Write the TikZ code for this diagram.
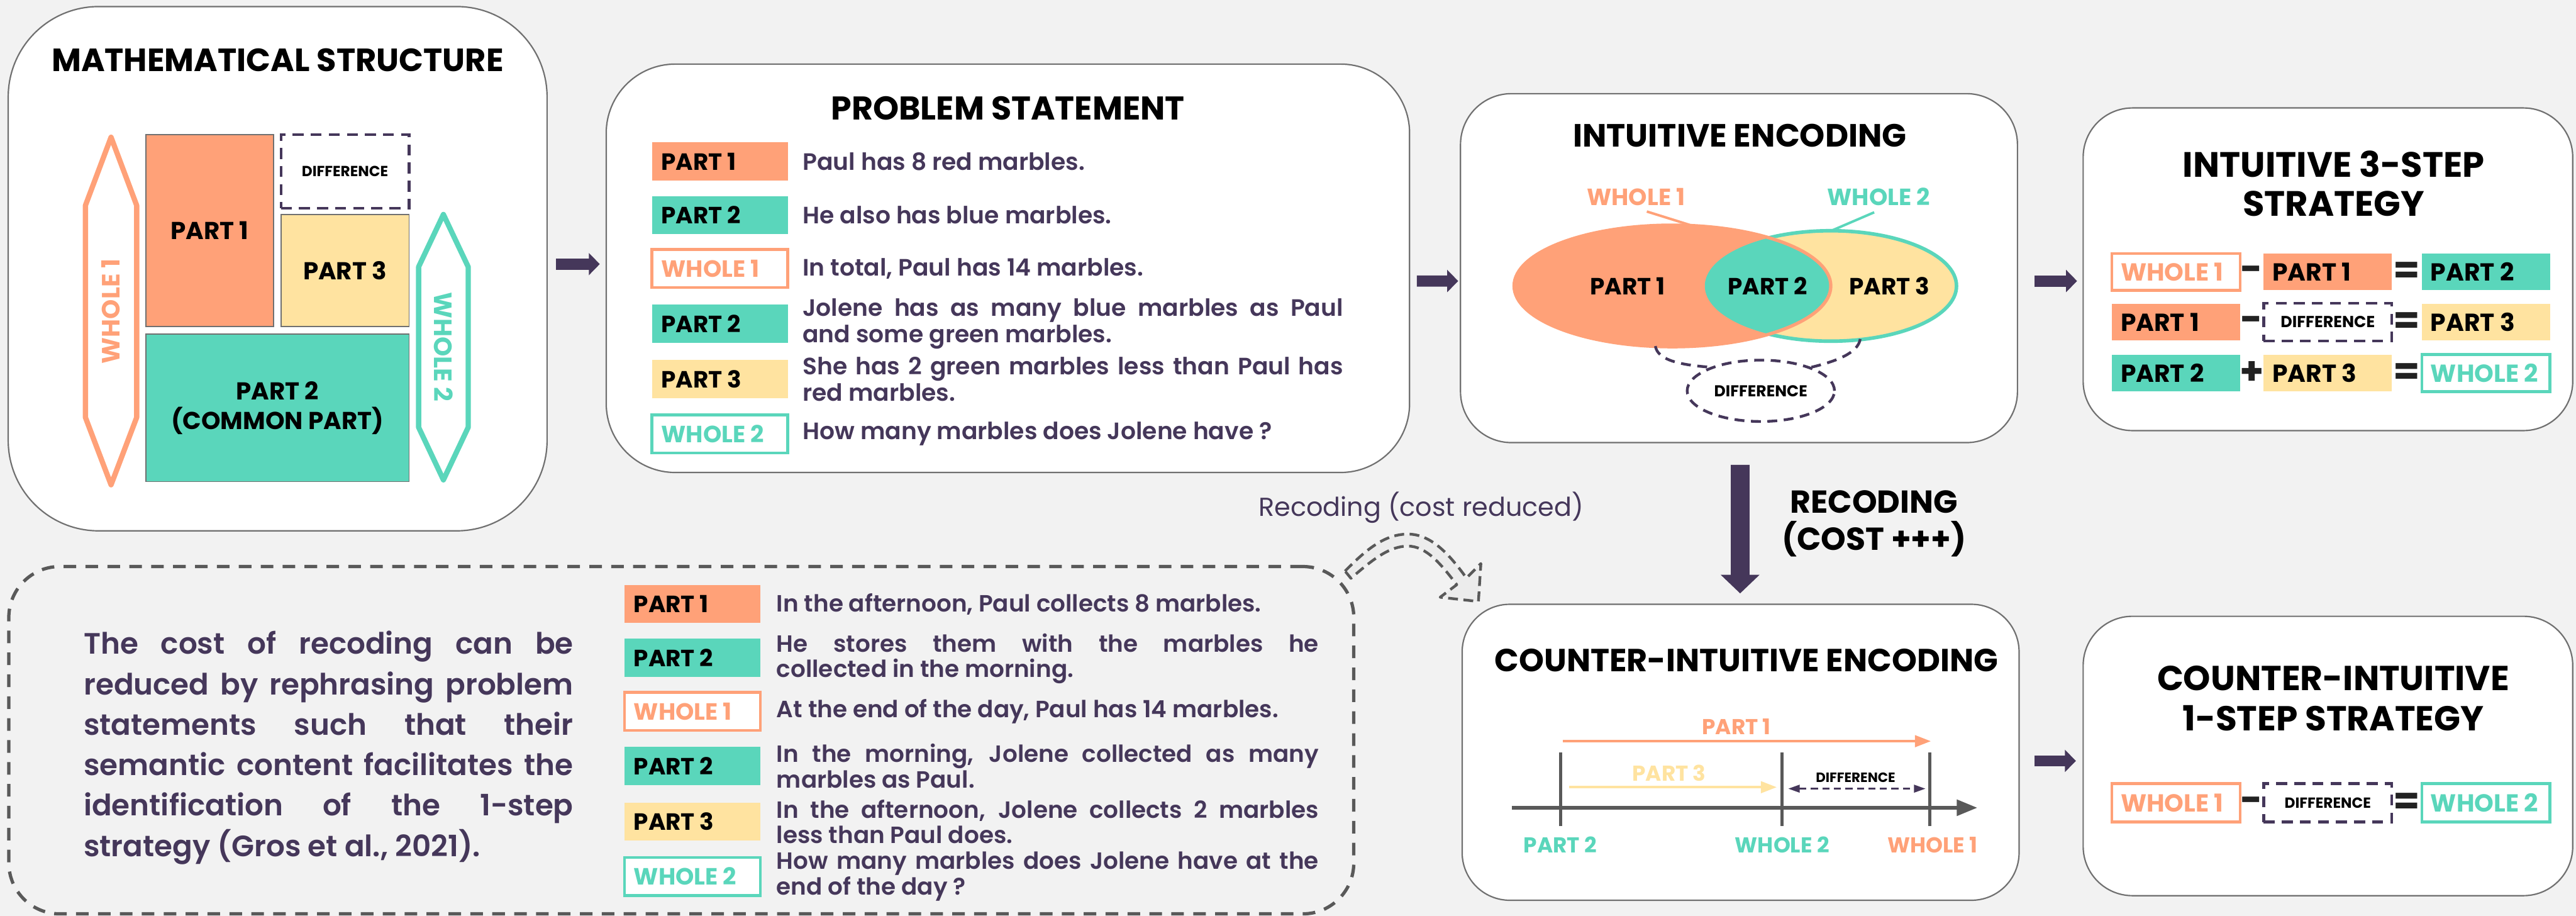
\documentclass[tikz,border=0pt]{standalone}
\usepackage{fontspec}
\setmainfont{Poppins}
\newfontfamily\pSemi{Poppins SemiBold}
\usetikzlibrary{arrows.meta,shapes.geometric,calc}
\definecolor{cOr}{HTML}{FFA178}
\definecolor{cTe}{HTML}{5AD6BB}
\definecolor{cYe}{HTML}{FFE3A0}
\definecolor{cPu}{HTML}{45375A}
\definecolor{cGr}{HTML}{595959}
\definecolor{cBg}{HTML}{F2F2F2}
\definecolor{cBd}{HTML}{707070}
\definecolor{cFa}{HTML}{ECECEC}
\definecolor{cOp}{HTML}{222222}
\newcommand\fs[2]{\fontsize{#1}{#2}\selectfont}
\newcommand\lbA[1]{\makebox[24.8mm][l]{\hspace{1.7mm}#1}}
\newcommand\lbB[1]{\makebox[23.4mm][l]{\hspace{1.6mm}#1}}
\newcommand\jl[2]{\makebox[#1][s]{#2}}
\begin{document}
\begin{tikzpicture}[x=0.3mm,y=-0.3mm,
 panel/.style={draw=cBd, line width=0.25mm, fill=white, inner sep=0},
 ttl/.style={align=center, inner sep=0, font=\bfseries\fs{16.7pt}{19pt}},
 lab/.style={minimum height=6.96mm, inner sep=0, font=\bfseries\fs{12.2pt}{14pt}},
 labB/.style={minimum height=6.72mm, inner sep=0, font=\bfseries\fs{12.8pt}{14pt}},
 sPa1/.style={fill=cOr},
 sPa2/.style={fill=cTe},
 sPa3/.style={fill=cYe},
 sWh1/.style={draw=cOr, line width=0.53mm, fill=white, text=cOr},
 sWh2/.style={draw=cTe, line width=0.53mm, fill=white, text=cTe},
 dbx/.style={draw=cPu, line width=0.5mm, dash pattern=on 2mm off 1.3mm, fill=white, minimum width=23.4mm, minimum height=6.9mm, inner sep=0, align=center, font=\bfseries\fs{8.3pt}{9pt}},
 body/.style={anchor=west, inner sep=0, text=cPu, font=\pSemi\fs{12.3pt}{11.8pt}},
 bodyB/.style={anchor=west, inner sep=0, text=cPu, font=\pSemi\fs{12.2pt}{11.3pt}},
 opr/.style={anchor=base, inner sep=0, text=cOp, font=\bfseries\fs{20pt}{20pt}},
 mrect/.style={draw=cBd, line width=0.2mm, inner sep=0, align=center, font=\bfseries\fs{12.7pt}{15.4pt}},
 harr/.style={cPu, line width=2.04mm, -{Triangle[length=2mm,width=3.96mm]}},
 varr/.style={cPu, line width=3.42mm, -{Triangle[length=3.4mm,width=6.9mm]}},
 cilab/.style={inner sep=0, font=\bfseries\fs{11.2pt}{12pt}},
 vlab/.style={inner sep=0, font=\bfseries\fs{12.2pt}{13pt}},
 ]
\useasboundingbox (0,0) rectangle (1568,557.3);
\fill[cBg] (0,0) rectangle (1568,557.3);

% ---------- panels
\node[panel, rounded corners=16.5mm, minimum width=98.4mm, minimum height=95.7mm] (P1) at (169,163.5) {};
\node[panel, rounded corners=12.6mm, minimum width=146.7mm, minimum height=74.55mm] (P2) at (613.5,163.25) {};
\node[panel, rounded corners=9.3mm, minimum width=101.7mm, minimum height=63.7mm] (P3) at (1058.5,163.15) {};
\node[panel, rounded corners=9mm, minimum width=89.4mm, minimum height=58.9mm] (P4) at (1417,163.85) {};
\node[panel, rounded corners=8.7mm, minimum width=101.7mm, minimum height=54.03mm] (P5) at (1059.5,457.75) {};
\node[panel, rounded corners=9mm, minimum width=89.4mm, minimum height=51mm] (P6) at (1417,460) {};
\node[draw=cGr, line width=0.6mm, dash pattern=on 2.3mm off 1.7mm, rounded corners=9.3mm, minimum width=245.6mm, minimum height=63.4mm, inner sep=0] (DB) at (414.7,450.4) {};

% ---------- titles
\node[ttl] (T1) at (169,36.5) {MATHEMATICAL STRUCTURE};
\node[ttl, font=\bfseries\fs{17.1pt}{18pt}] (T2) at (613.5,65.8) {PROBLEM STATEMENT};
\node[ttl] (T3) at (1059,82.5) {INTUITIVE ENCODING};
\node[ttl, font=\bfseries\fs{18.3pt}{20.3pt}] (T4) at (1420.5,111.6) {INTUITIVE 3-STEP\\STRATEGY};
\node[ttl, font=\bfseries\fs{16.6pt}{19pt}] (T5) at (1063,401.7) {COUNTER-INTUITIVE ENCODING};
\node[ttl, font=\bfseries\fs{18pt}{20.9pt}] (T6) at (1420.2,425) {COUNTER-INTUITIVE\\1-STEP STRATEGY};

% ---------- mathematical structure
\draw[cOr, line width=0.96mm, line join=round] (67.6,83.5) -- (83.2,125) -- (83.2,254) -- (67.6,295) -- (52,254) -- (52,125) -- cycle;
\node[rotate=90, text=cOr, inner sep=0, font=\bfseries\fs{13pt}{13pt}] (MW1) at (67.6,189.5) {WHOLE 1};
\draw[cTe, line width=0.96mm, line join=round] (269.9,130.5) -- (285,162.4) -- (285,260) -- (269.9,292) -- (254.8,260) -- (254.8,162.4) -- cycle;
\node[rotate=-90, text=cTe, inner sep=0, font=\bfseries\fs{13pt}{13pt}] (MW2) at (269.9,211) {WHOLE 2};
\node[mrect, fill=cOr, minimum width=23.31mm, minimum height=35.1mm] (MP1) at (127.55,140.3) {PART 1};
\node[mrect, fill=cYe, minimum width=23.4mm, minimum height=20.49mm] (MP3) at (210,164.65) {PART 3};
\node[mrect, fill=cTe, minimum width=48.09mm, minimum height=26.88mm] (MP2) at (168.85,248.2) {PART 2\\(COMMON PART)};
\node[dbx, minimum width=23.4mm, minimum height=13.44mm, font=\bfseries\fs{7.6pt}{8pt}] (MDF) at (210,104.2) {DIFFERENCE};

% ---------- problem statement
\node[lab, sPa1] (L1) at (438.2,98.2) {\lbA{PART 1}};
\node[body] (S1) at (488.4,98.2) {Paul has 8 red marbles.};
\node[lab, sPa2] (L2) at (438.2,130.9) {\lbA{PART 2}};
\node[body] (S2) at (488.4,130.9) {He also has blue marbles.};
\node[lab, sWh1] (L3) at (438.2,163.4) {\lbA{WHOLE 1}};
\node[body] (S3) at (488.4,163.4) {In total, Paul has 14 marbles.};
\node[lab, sPa2] (L4) at (438.2,196.9) {\lbA{PART 2}};
\node[body, align=left, font=\pSemi\fs{12.3pt}{13.8pt}] (S4) at (488.4,196.9) {\jl{98.7mm}{Jolene has as many blue marbles as Paul}\\and some green marbles.};
\node[lab, sPa3] (L5) at (438.2,230.7) {\lbA{PART 3}};
\node[body, align=left, font=\pSemi\fs{12.3pt}{13.8pt}] (S5) at (488.4,230.7) {\jl{98.7mm}{She has 2 green marbles less than Paul has}\\red marbles.};
\node[lab, sWh2] (L6) at (438.2,264) {\lbA{WHOLE 2}};
\node[body] (S6) at (488.4,264) {How many marbles does Jolene have ?};

% ---------- intuitive encoding (Venn)
\draw[cTe, line width=0.65mm, fill=cYe] (1114.3,174) ellipse [x radius=76.6, y radius=33.6];
\fill[cOr] (1018,174) ellipse [x radius=96.4, y radius=37];
\begin{scope}
\clip (1018,174) ellipse [x radius=96.4, y radius=37];
\fill[cTe] (1114.3,174) ellipse [x radius=76.6, y radius=33.6];
\end{scope}
\draw[cOr, line width=0.6mm] (1018,174) ellipse [x radius=96.4, y radius=37];
\node[vlab] (VP1) at (990.8,174) {PART 1};
\node[vlab] (VP2) at (1076,174) {PART 2};
\node[vlab] (VP3) at (1150,174) {PART 3};
\node[vlab, text=cOr] (VW1) at (995.8,119.7) {WHOLE 1};
\node[vlab, text=cTe] (VW2) at (1143.5,119.7) {WHOLE 2};
\draw[cOr, line width=0.45mm] (1002.4,128.7) -- (1030.9,137.6);
\draw[cTe, line width=0.45mm] (1140.8,129.2) -- (1114.5,140.5);
\node[ellipse, draw=cPu, line width=0.5mm, dash pattern=on 1.8mm off 1.2mm, minimum width=26.9mm, minimum height=11.2mm, inner sep=0, font=\bfseries\fs{8.2pt}{9pt}] (VD) at (1071.8,237.8) {DIFFERENCE};
\coordinate (VC1) at (1007.6,210.6);
\coordinate (VC2) at (1132.3,206.3);
\draw[cPu, line width=0.5mm, dash pattern=on 1.8mm off 1.2mm] (VC1) .. controls (1009,219) and (1022,222) .. (VD.155);
\draw[cPu, line width=0.5mm, dash pattern=on 1.8mm off 1.2mm] (VC2) .. controls (1131,215) and (1117,220) .. (VD.25);

% ---------- intuitive 3-step strategy
\node[labB, sWh1] (E11) at (1324.5,165.4) {\lbB{WHOLE 1}};
\node[opr] (O11) at (1370.7,171.6) {-};
\node[labB, sPa1] (E12) at (1416.9,165.4) {\lbB{PART 1}};
\node[opr] (O12) at (1465,172.4) {=};
\node[labB, sPa2] (E13) at (1513.2,165.4) {\lbB{PART 2}};
\node[labB, sPa1] (E21) at (1324.5,196) {\lbB{PART 1}};
\node[opr] (O21) at (1370.7,202.2) {-};
\node[dbx] (E22) at (1416.9,196) {DIFFERENCE};
\node[opr] (O22) at (1465,203) {=};
\node[labB, sPa3] (E23) at (1513.2,196) {\lbB{PART 3}};
\node[labB, sPa2] (E31) at (1324.5,227) {\lbB{PART 2}};
\node[opr] (O31) at (1370.7,234) {+};
\node[labB, sPa3] (E32) at (1416.9,227) {\lbB{PART 3}};
\node[opr] (O32) at (1465,234) {=};
\node[labB, sWh2] (E33) at (1513.2,227) {\lbB{WHOLE 2}};

% ---------- counter-intuitive encoding
\draw[cGr, line width=0.66mm, -{Triangle[length=3.75mm,width=2.85mm]}] (920.2,491.5) -- (1203.6,491.5);
\draw[cGr, line width=0.6mm] (950,458) -- (950,502.5);
\draw[cGr, line width=0.6mm] (1084.8,458) -- (1084.8,502.5);
\draw[cGr, line width=0.6mm] (1174.6,458) -- (1174.6,502.5);
\draw[cOr, line width=0.45mm, -{Triangle[length=2.9mm,width=2.1mm]}] (951.2,451) -- (1175.3,451);
\draw[cYe, line width=0.45mm, -{Triangle[length=2.9mm,width=2.1mm]}] (955,479) -- (1081.5,479);
\draw[cPu, line width=0.3mm, dash pattern=on 1.3mm off 0.8mm, {Triangle[length=2.1mm,width=1.4mm]}-{Triangle[length=2.1mm,width=1.4mm]}] (1088.5,479.9) -- (1172,479.9);
\node[cilab, text=cOr] (CP1) at (1057,442.3) {PART 1};
\node[cilab, text=cYe] (CP3) at (1016,470.3) {PART 3};
\node[inner sep=0, font=\bfseries\fs{7pt}{8pt}] (CDF) at (1129.5,473) {DIFFERENCE};
\node[cilab, text=cTe] (CP2) at (949.7,514) {PART 2};
\node[cilab, text=cTe] (CW2) at (1084.8,514) {WHOLE 2};
\node[cilab, text=cOr] (CW1) at (1176.4,514) {WHOLE 1};

% ---------- counter-intuitive 1-step strategy
\node[labB, sWh1, minimum height=7mm] (F1) at (1324.5,488.5) {\lbB{WHOLE 1}};
\node[opr] (FO1) at (1370.7,494.7) {-};
\node[dbx, minimum height=7mm, font=\bfseries\fs{7.6pt}{8pt}] (F2) at (1416.9,488.5) {DIFFERENCE};
\node[opr] (FO2) at (1465,495.5) {=};
\node[labB, sWh2, minimum height=7mm] (F3) at (1513.2,488.5) {\lbB{WHOLE 2}};

% ---------- bottom dashed box
\node[inner sep=0, align=left, text=cPu, font=\pSemi\fs{15.3pt}{21pt}] (PAR) at (200,455) {\jl{89.4mm}{The cost of recoding can be}\\\jl{89.4mm}{reduced by rephrasing problem}\\\jl{89.4mm}{statements such that their}\\\jl{89.4mm}{semantic content facilitates the}\\\jl{89.4mm}{identification of the 1-step}\\\makebox[89.4mm][l]{strategy (Gros et al., 2021).}};
\node[lab, sPa1] (B1) at (421.45,367.5) {\lbA{PART 1}};
\node[bodyB] (R1) at (472.5,367.5) {In the afternoon, Paul collects 8 marbles.};
\node[lab, sPa2] (B2) at (421.45,400.2) {\lbA{PART 2}};
\node[bodyB, align=left, font=\pSemi\fs{12.2pt}{13.2pt}] (R2) at (472.5,400.8) {\jl{99mm}{He stores them with the marbles he}\\collected in the morning.};
\node[lab, sWh1] (B3) at (421.45,432.8) {\lbA{WHOLE 1}};
\node[bodyB] (R3) at (472.5,432.8) {At the end of the day, Paul has 14 marbles.};
\node[lab, sPa2] (B4) at (421.45,466.1) {\lbA{PART 2}};
\node[bodyB, align=left, font=\pSemi\fs{12.2pt}{13.2pt}] (R4) at (472.5,466.1) {\jl{99mm}{In the morning, Jolene collected as many}\\marbles as Paul.};
\node[lab, sPa3] (B5) at (421.45,500) {\lbA{PART 3}};
\node[bodyB, align=left, font=\pSemi\fs{12.2pt}{13.2pt}] (R5) at (472.5,500) {\jl{99mm}{In the afternoon, Jolene collects 2 marbles}\\less than Paul does.};
\node[lab, sWh2] (B6) at (421.45,533.3) {\lbA{WHOLE 2}};
\node[bodyB, align=left, font=\pSemi\fs{12.2pt}{13.2pt}] (R6) at (472.5,533.3) {\jl{99mm}{How many marbles does Jolene have at the}\\end of the day ?};

% ---------- connectors between panels
\draw[harr] ($(P1.east)+(5,-2.8)$) -- ($(P2.west)+(-3.5,-2.55)$);
\draw[harr] ($(P2.east)+(4,7.75)$) -- ($(P3.west)+(-1,7.85)$);
\draw[harr] ($(P3.east)+(10,7.85)$) -- ($(P4.west)+(-3.3,7.15)$);
\draw[harr] ($(P5.east)+(9,5.25)$) -- ($(P6.west)+(-4,3)$);
\draw[varr] ($(P3.south)+(0.7,13.1)$) -- ($(P5.north)+(-0.3,-6.2)$);
\node[inner sep=0, align=center, font=\bfseries\fs{16.5pt}{19.4pt}] (RC) at (1140.7,318.6) {RECODING\\(COST +++)};
\node[inner sep=0, text=cPu, font=\fs{13.5pt}{15pt}] (RR) at (865,309) {Recoding (cost reduced)};

% ---------- curved dashed arrow (recoding, cost reduced)
\draw[cGr, line width=0.5mm, dash pattern=on 1.8mm off 1mm, fill=cFa, line join=round]
 (818.7,347.5) .. controls (832,334) and (843,325) .. (857,325)
 .. controls (871,325) and (882,337) .. (892.6,351.7)
 -- (901.4,342.9) -- (899.9,366) -- (876.6,363.4) -- (886.7,355.8)
 .. controls (877,343) and (868,332.3) .. (857,332.3)
 .. controls (846,332.3) and (836,340) .. (822.3,351.9) -- cycle;
\end{tikzpicture}
\end{document}
